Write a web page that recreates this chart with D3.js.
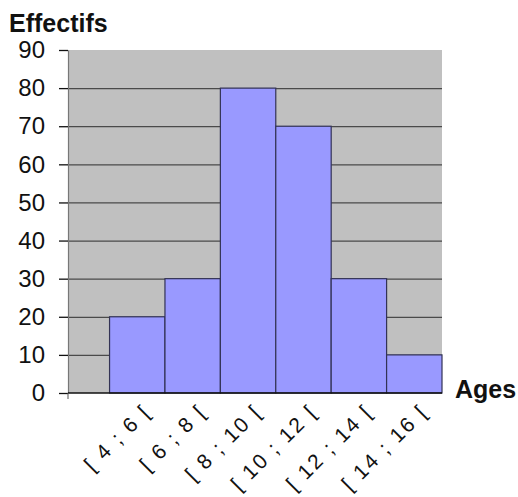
<!DOCTYPE html>
<html>
<head>
<meta charset="utf-8">
<script src="https://cdn.jsdelivr.net/npm/d3@7"></script>
<style>
  html, body { margin: 0; padding: 0; background: #ffffff; }
  svg { display: block; }
  text { font-family: Arial, "Liberation Sans", sans-serif; fill: #111; }
</style>
</head>
<body>
<svg id="chart" width="518" height="497"></svg>
<script>
// Age classes (years) and number of people in each class
const binStarts = [4, 6, 8, 10, 12, 14];
const binWidth = 2;
const binLabels = ["[ 4 ; 6 [", "[ 6 ; 8 [", "[ 8 ; 10 [", "[ 10 ; 12 [", "[ 12 ; 14 [", "[ 14 ; 16 ["];
const counts = [20, 30, 80, 70, 30, 10];
const yTicks = [0, 10, 20, 30, 40, 50, 60, 70, 80, 90];

const plot = { left: 68, right: 442, top: 50, bottom: 393 };

const svg = d3.select("#chart");

const x = d3.scaleLinear().domain([2.5, 16]).range([plot.left, plot.right]);
const y = d3.scaleLinear().domain([0, 90]).range([plot.bottom, plot.top]);

// plot background
svg.append("rect")
  .attr("x", plot.left).attr("y", plot.top)
  .attr("width", plot.right - plot.left).attr("height", plot.bottom - plot.top)
  .attr("fill", "#c0c0c0");

// horizontal gridlines
const grid = svg.append("g")
  .attr("transform", `translate(${plot.left},0)`)
  .call(d3.axisLeft(y).tickValues(yTicks.filter(t => t > 0 && t < 90))
    .tickSize(-(plot.right - plot.left)).tickFormat(""));
grid.select(".domain").remove();
grid.selectAll("line").attr("stroke", "#4a4a4a").attr("stroke-width", 1.3);

// histogram bars
svg.append("g").selectAll("rect")
  .data(counts)
  .join("rect")
  .attr("x", (d, i) => x(binStarts[i]))
  .attr("y", d => y(d))
  .attr("width", (d, i) => x(binStarts[i] + binWidth) - x(binStarts[i]))
  .attr("height", d => y(0) - y(d))
  .attr("fill", "#9999ff")
  .attr("stroke", "#333355")
  .attr("stroke-width", 1.2);

// y axis
const yAxis = svg.append("g")
  .attr("transform", `translate(${plot.left},0)`)
  .call(d3.axisLeft(y).tickValues(yTicks).tickSize(9).tickSizeOuter(0).tickPadding(14));
yAxis.select(".domain").attr("stroke", "#777").attr("stroke-width", 1.2);
yAxis.selectAll(".tick line").attr("stroke", "#111").attr("stroke-width", 1.3);
yAxis.selectAll(".tick text")
  .attr("font-size", 24)
  .attr("fill", "#111")
  .style("font-family", "Arial, 'Liberation Sans', sans-serif");

// x axis baseline
svg.append("line")
  .attr("x1", plot.left).attr("x2", plot.right)
  .attr("y1", y(0)).attr("y2", y(0))
  .attr("stroke", "#111").attr("stroke-width", 1.6);
svg.append("line")
  .attr("x1", x(2.5)).attr("x2", x(2.5))
  .attr("y1", y(0)).attr("y2", y(0) + 6)
  .attr("stroke", "#555").attr("stroke-width", 1);

// rotated class labels
svg.append("g").selectAll("text")
  .data(binLabels)
  .join("text")
  .attr("transform", (d, i) => `translate(${x(binStarts[i] + binWidth / 2) + 15},${y(0) + 20}) rotate(-45)`)
  .attr("text-anchor", "end")
  .attr("font-size", 21)
  .attr("letter-spacing", 2.2)
  .text(d => d);

// axis titles
svg.append("text")
  .attr("x", 9).attr("y", 32)
  .attr("font-size", 25).attr("font-weight", "bold")
  .text("Effectifs");

svg.append("text")
  .attr("x", 455).attr("y", 398)
  .attr("font-size", 25).attr("font-weight", "bold")
  .text("Ages");
</script>
</body>
</html>
